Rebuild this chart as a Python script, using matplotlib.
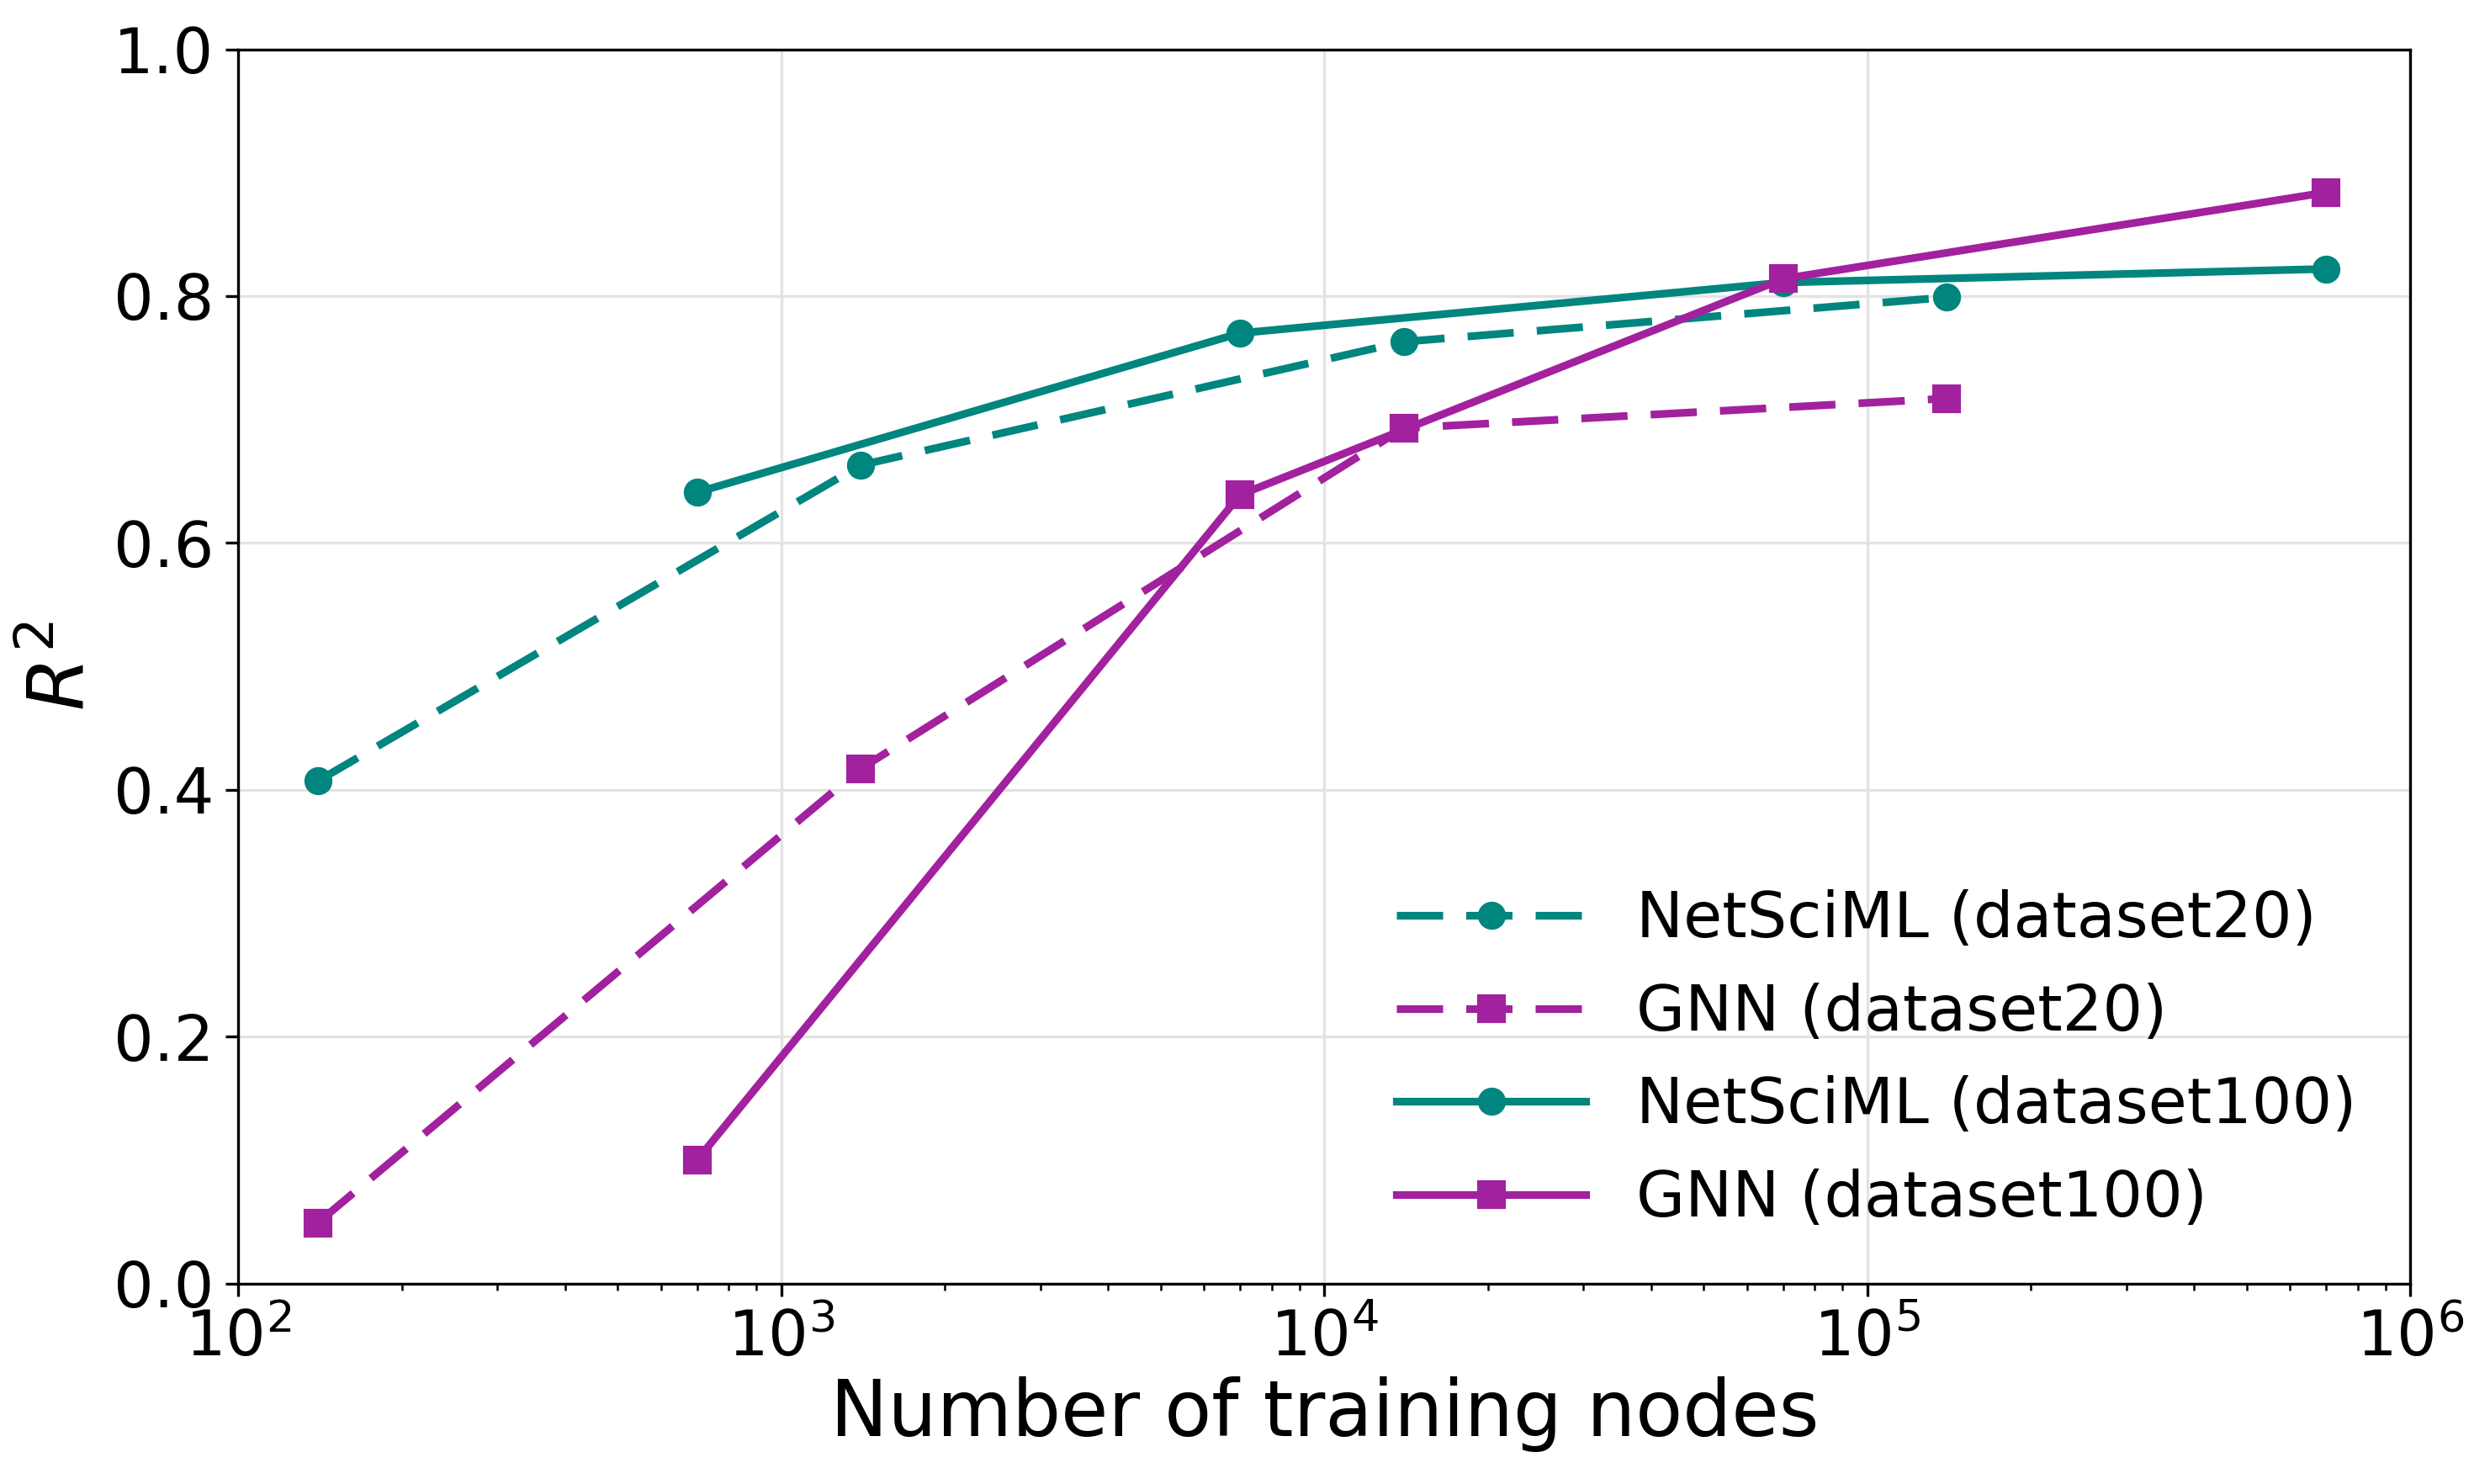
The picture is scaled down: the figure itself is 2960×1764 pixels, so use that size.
import matplotlib
matplotlib.use("Agg")
import matplotlib.pyplot as plt

# Data
x_d20 = [140, 1400, 14000, 140000]
x_d100 = [700, 7000, 70000, 700000]
netsci_d20 = [0.407, 0.663, 0.763, 0.799]
gnn_d20 = [0.049, 0.417, 0.693, 0.717]
netsci_d100 = [0.641, 0.770, 0.811, 0.822]
gnn_d100 = [0.100, 0.639, 0.814, 0.884]
labels = ["NetSciML (dataset20)", "GNN (dataset20)",
          "NetSciML (dataset100)", "GNN (dataset100)"]
yticks = [0.0, 0.2, 0.4, 0.6, 0.8, 1.0]

teal = "#00857F"
mag = "#A2219E"

fig = plt.figure(figsize=(2960 / 300, 1764 / 300), dpi=300)
ax = fig.add_axes([0.0957, 0.1352, 0.968 - 0.0957, 0.9668 - 0.1352])

lw = 2.2
ms = 7
ax.plot(x_d20, netsci_d20, color=teal, lw=lw, marker="o", ms=ms,
        dashes=(6, 3), label=labels[0])
ax.plot(x_d20, gnn_d20, color=mag, lw=lw, marker="s", ms=ms,
        dashes=(6, 3), label=labels[1])
ax.plot(x_d100, netsci_d100, color=teal, lw=lw, marker="o", ms=ms,
        label=labels[2])
ax.plot(x_d100, gnn_d100, color=mag, lw=lw, marker="s", ms=ms,
        label=labels[3])

ax.set_xscale("log")
ax.set_xlim(1e2, 1e6)
ax.set_ylim(0, 1)
ax.set_yticks(yticks)
ax.set_yticklabels([f"{v:.1f}" for v in yticks])
ax.tick_params(axis="both", which="major", labelsize=18)
ax.grid(True, which="major", color="#e3e3e3", lw=0.8)
ax.set_axisbelow(True)

ax.set_xlabel("Number of training nodes", fontsize=22, labelpad=2)
ax.set_ylabel("$R^2$", fontsize=22)

ax.legend(loc="lower right", fontsize=18, frameon=False, handlelength=3,
          labelspacing=0.5, borderaxespad=0.45, handletextpad=0.8)

fig.savefig("out.png", dpi=300)
